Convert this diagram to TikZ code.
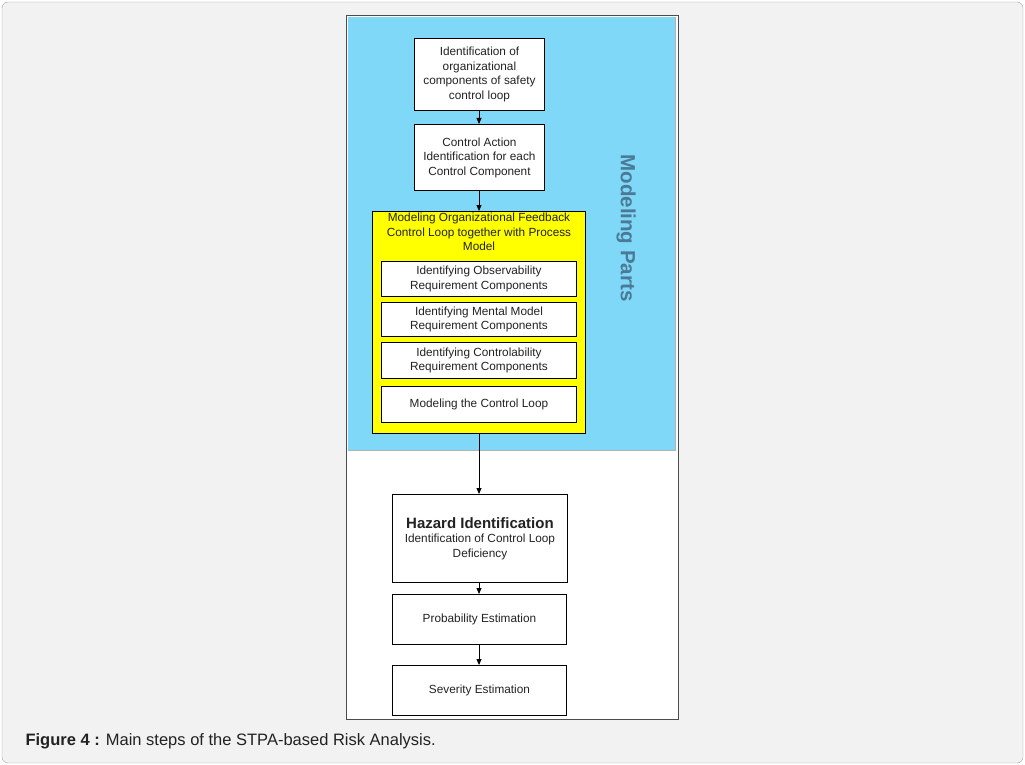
\documentclass[tikz,border=0pt]{standalone}
\usepackage{fontspec}
\setmainfont{Liberation Sans}
\usetikzlibrary{arrows.meta}
\definecolor{bgray}{HTML}{F2F2F2}
\definecolor{sky}{HTML}{80D8F8}
\definecolor{ylw}{HTML}{FFFF00}
\definecolor{lblue}{HTML}{4A7A96}
\definecolor{txt}{HTML}{222222}
\begin{document}
\begin{tikzpicture}[x=1pt,y=-1pt,
  box/.style={draw=black,line width=0.9pt,fill=white,align=center,text=txt,inner sep=1pt,font=\fontsize{11.8}{14.5}\selectfont},
  arr/.style={-{Triangle[length=6pt,width=5pt]},line width=0.8pt}]
\useasboundingbox (0,0) rectangle (1025,765);
\draw[gray!70,fill=bgray,rounded corners=6pt] (2,2) rectangle (1023,763);
\draw[black!70,fill=white] (346,15) rectangle (678,719);
\fill[sky] (348,17) rectangle (675,450);
\draw[gray!60] (348,450) -- (675,450) -- (675,17);
\node[rotate=-90,text=lblue,font=\bfseries\fontsize{20.5}{20.5}\selectfont] (mp) at (626,228) {Modeling Parts};
\node[box,minimum width=130pt,minimum height=72pt,anchor=north west] (b1) at (414,38) {Identification of\\organizational\\components of safety\\control loop};
\node[box,minimum width=130pt,minimum height=66pt,anchor=north west] (b2) at (414,124) {Control Action\\Identification for each\\Control Component};
\node[box,fill=ylw,minimum width=213pt,minimum height=222pt,anchor=north west] (y) at (372,211) {};
\node[align=center,text=txt,inner sep=0pt,font=\fontsize{11.8}{14.5}\selectfont,anchor=north] (yt) at (479,213) {Modeling Organizational Feedback\\Control Loop together with Process\\Model};
\node[box,minimum width=195pt,minimum height=35pt,anchor=north west] (s1) at (381,261) {Identifying Observability\\Requirement Components};
\node[box,minimum width=195pt,minimum height=34pt,anchor=north west] (s2) at (381,302) {Identifying Mental Model\\Requirement Components};
\node[box,minimum width=195pt,minimum height=36pt,anchor=north west] (s3) at (381,342) {Identifying Controlability\\Requirement Components};
\node[box,minimum width=195pt,minimum height=36pt,anchor=north west] (s4) at (381,386) {Modeling the Control Loop};
\node[box,minimum width=175pt,minimum height=88pt,anchor=north west] (h) at (392,494) {{\bfseries\fontsize{15}{17}\selectfont Hazard Identification}\\Identification of Control Loop\\Deficiency};
\node[box,minimum width=174pt,minimum height=50pt,anchor=north west] (p) at (392,594) {Probability Estimation};
\node[box,minimum width=174pt,minimum height=50pt,anchor=north west] (s) at (392,665) {Severity Estimation};
\draw[arr] (b1.south -| 479,0) -- (b2.north -| 479,0);
\draw[arr] (b2.south -| 479,0) -- (y.north -| 479,0);
\draw[arr] (y.south -| 479,0) -- (h.north -| 479,0);
\draw[arr] (h.south -| 479,0) -- (p.north -| 479,0);
\draw[arr] (p.south -| 479,0) -- (s.north -| 479,0);
\node[anchor=west,text=txt,font=\fontsize{16.5}{18}\selectfont] (cap) at (22,741) {\textbf{Figure 4 :} Main steps of the STPA-based Risk Analysis.};
\end{tikzpicture}
\end{document}
